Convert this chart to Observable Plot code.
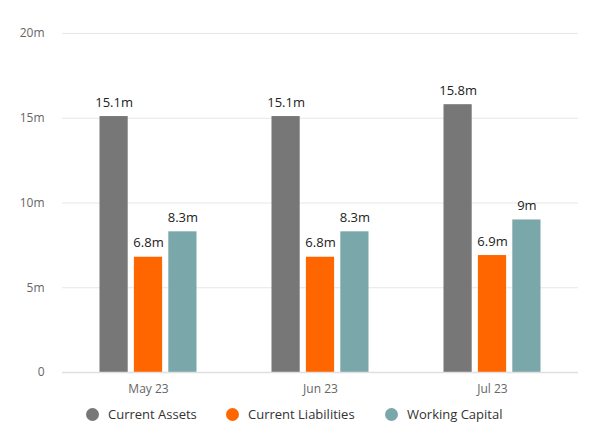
<!DOCTYPE html>
<html>
<head>
<meta charset="utf-8">
<script src="https://cdn.jsdelivr.net/npm/d3@7"></script>
<script src="https://cdn.jsdelivr.net/npm/@observablehq/plot@0.6"></script>
<style>
  body { margin: 0; background: #fff; font-family: 'Open Sans', sans-serif; }
  #legend { margin-top: 3px; font-size: 13px; color: #333; }
  #legend .item { display: flex; align-items: center; position: absolute; }
  #legend .dot { width: 13px; height: 13px; border-radius: 50%; margin-right: 9px; }
</style>
</head>
<body>
<div id="chart"></div>
<div id="legend"></div>
<script>
const months = ["May 23", "Jun 23", "Jul 23"];
const series = ["Current Assets", "Current Liabilities", "Working Capital"];
const colors = ["#777777", "#ff6600", "#7aa8aa"];
const currentAssets = [15.1, 15.1, 15.8];
const currentLiabilities = [6.8, 6.8, 6.9];
const workingCapital = [8.3, 8.3, 9];
const yTicks = [0, 5, 10, 15, 20];

// long table for the marks
const data = [];
months.forEach((m, i) => {
  data.push({month: m, series: series[0], value: currentAssets[i] * 1e6});
  data.push({month: m, series: series[1], value: currentLiabilities[i] * 1e6});
  data.push({month: m, series: series[2], value: workingCapital[i] * 1e6});
});
data.forEach(d => d.key = d.month + "|" + d.series);

// band domain: each month gets an empty slot either side of its three bars
const xDomain = months.flatMap(m => [m + "|pre", ...series.map(s => m + "|" + s), m + "|post"]);
const midKeys = months.map(m => m + "|" + series[1]);

const fmt = v => v === 0 ? "0" : (v / 1e6) + "m";

let chart = Plot.plot({
  width: 590,
  height: 402,
  marginTop: 33,
  marginBottom: 30,
  marginLeft: 62,
  marginRight: 12,
  style: {fontFamily: "'Open Sans', sans-serif", fontSize: "12px", color: "#666"},
  x: {domain: xDomain, paddingInner: 0.18, paddingOuter: 0.09, round: false, label: null},
  y: {domain: [0, 20e6], label: null},
  color: {domain: series, range: colors},
  marks: [
    Plot.gridY(yTicks.slice(1).map(d => d * 1e6), {stroke: "#e6e6e6", strokeOpacity: 1}),
    Plot.axisY(yTicks.map(d => d * 1e6), {tickFormat: fmt, tickSize: 0, tickPadding: 18, fill: "#666", fontSize: 12}),
    Plot.axisX(midKeys, {tickFormat: k => k.split("|")[0], tickSize: 0, tickPadding: 12, fill: "#666", fontSize: 12, label: null}),
    Plot.barY(data, {x: "key", y: "value", fill: "series"}),
    Plot.text(data, {x: "key", y: "value", text: d => fmt(d.value), dy: -14, fill: "#222", fontSize: 13}),
    Plot.ruleY([0], {stroke: "#e0e0e0", strokeWidth: 1.5})
  ]
});

d3.select("#chart").append(() => chart);

// legend below the chart
const legendX = [86, 226, 385];
const legend = d3.select("#legend").style("position", "relative").style("height", "20px");
series.forEach((s, i) => {
  const item = legend.append("div").attr("class", "item").style("left", legendX[i] + "px");
  item.append("div").attr("class", "dot").style("background", colors[i]);
  item.append("span").text(s);
});
</script>
</body>
</html>
